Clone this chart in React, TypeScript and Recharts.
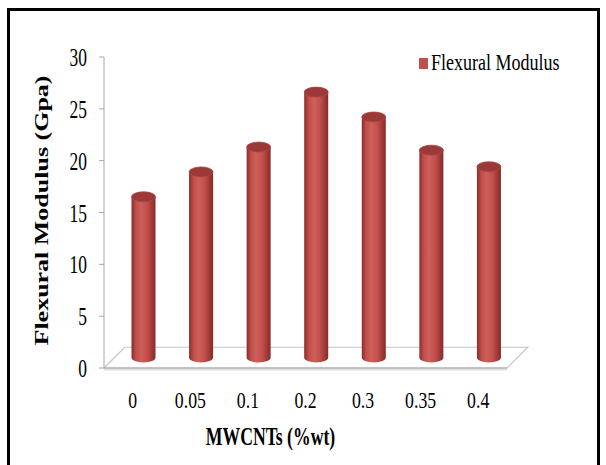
import React from "react";
import { BarChart, Bar, XAxis, YAxis, ReferenceArea, Legend } from "recharts";

// values
const categories = ["0", "0.05", "0.1", "0.2", "0.3", "0.35", "0.4"];
const flexuralModulus = [15.5, 17.9, 20.3, 25.6, 23.2, 20.0, 18.4];
const yTicks = [0, 5, 10, 15, 20, 25, 30];
const slotEdges = [0, 1, 2, 3, 4, 5, 6, 7];

const data = categories.map((name, i) => ({ name, value: flexuralModulus[i] }));

const SERIF = "Liberation Serif";
const DEPTH = 21; // px depth of the fake 3d floor
const FLOOR_UNITS = 2; // same depth in y units

const Cylinder = (props: any) => {
  const { x, y, width, height } = props;
  if (height == null || width == null) return null;
  const d = DEPTH / 2;
  const rx = width / 2;
  const ry = 5;
  const cx = x + rx + d;
  const top = y - d;
  const bottom = y + height - d;
  return (
    <g>
      <path
        d={`M${cx - rx},${top} L${cx - rx},${bottom} A${rx},${ry} 0 0 0 ${cx + rx},${bottom} L${cx + rx},${top} Z`}
        fill="url(#cylBody)"
      />
      <ellipse cx={cx} cy={top} rx={rx} ry={ry} fill="#9a3937" stroke="#b04644" strokeWidth={0.8} />
    </g>
  );
};

const Floor = (props: any) => {
  const { x, y, width, height } = props;
  const front = y + height;
  const back = y;
  const dx = height;
  return (
    <g>
      <polygon
        points={`${x},${front} ${x + width},${front} ${x + width + dx},${back} ${x + dx},${back}`}
        fill="#ffffff"
        stroke="#c4c4c4"
        strokeWidth={1.2}
      />
      <line x1={x} y1={front + 1.5} x2={x + width} y2={front + 1.5} stroke="#dedede" strokeWidth={2} />
      <line x1={x} y1={front} x2={x + width} y2={front} stroke="#a6a6a6" strokeWidth={1.2} />
    </g>
  );
};

const XTick = ({ x, y, payload }: any) => (
  <text
    transform={`translate(${x},${y + 32}) scale(0.74,1)`}
    textAnchor="middle"
    fontSize={24}
    fontFamily={SERIF}
    fill="#000"
  >
    {payload.value}
  </text>
);

const YTick = ({ x, y, payload }: any) => (
  <text
    transform={`translate(${x - 10},${y + 9}) scale(0.67,1)`}
    textAnchor="end"
    fontSize={26}
    fontFamily={SERIF}
    fill="#000"
  >
    {payload.value}
  </text>
);

const XLabel = ({ viewBox }: any) => (
  <text
    transform={`translate(${viewBox.x + viewBox.width / 2 - 35},${viewBox.y + 77}) scale(0.68,1)`}
    textAnchor="middle"
    fontSize={26}
    fontWeight="bold"
    fontFamily={SERIF}
    fill="#000"
  >
    MWCNTs (%wt)
  </text>
);

const YLabel = ({ viewBox }: any) => (
  <text
    transform={`translate(${viewBox.x + 4},${viewBox.y + viewBox.height / 2 - 2}) rotate(-90) scale(1,0.75)`}
    textAnchor="middle"
    fontSize={26}
    fontWeight="bold"
    fontFamily={SERIF}
    fill="#000"
  >
    Flexural Modulus (Gpa)
  </text>
);

const LegendBox = ({ payload }: any) => {
  const item = payload && payload[0];
  return (
    <div style={{ position: "relative", width: 170, height: 30 }}>
      <div style={{ position: "absolute", left: 2, top: 8, width: 9, height: 11, background: "#c0504d" }} />
      <span
        style={{
          position: "absolute",
          left: 14,
          top: -1,
          fontFamily: SERIF,
          fontSize: 24,
          color: "#000",
          whiteSpace: "nowrap",
          transform: "scaleX(0.75)",
          transformOrigin: "left top",
        }}
      >
        {item ? item.value : "Flexural Modulus"}
      </span>
    </div>
  );
};

export default function App() {
  return (
    <div style={{ position: "absolute", left: 0, top: 0, width: 606, height: 465, background: "#fff", overflow: "hidden" }}>
      <div
        style={{
          position: "absolute",
          left: 7,
          top: 8,
          width: 587,
          height: 470,
          borderTop: "3px solid #000",
          borderLeft: "3px solid #000",
          borderRight: "3px solid #000",
        }}
      />
      <BarChart width={606} height={465} data={data} margin={{ top: 57, right: 99, bottom: 49, left: 44 }}>
        <defs>
          <linearGradient id="cylBody" x1="0" y1="0" x2="1" y2="0">
            <stop offset="0%" stopColor="#8a2b29" />
            <stop offset="18%" stopColor="#bf4e4b" />
            <stop offset="40%" stopColor="#cf5f5b" />
            <stop offset="65%" stopColor="#c2504d" />
            <stop offset="100%" stopColor="#862a28" />
          </linearGradient>
        </defs>
        <XAxis
          xAxisId="edges"
          type="number"
          domain={[0, 7]}
          ticks={slotEdges}
          allowDataOverflow
          tick={false}
          axisLine={false}
          tickLine={{ stroke: "#a6a6a6" }}
          tickSize={6}
          height={8}
        />
        <XAxis
          xAxisId="cat"
          dataKey="name"
          axisLine={false}
          tickLine={false}
          tick={<XTick />}
          interval={0}
          height={40}
          label={<XLabel />}
        />
        <YAxis
          domain={[0, 30]}
          ticks={yTicks}
          width={60}
          axisLine={{ stroke: "#a6a6a6" }}
          tickLine={{ stroke: "#a6a6a6" }}
          tickSize={5}
          tick={<YTick />}
          label={<YLabel />}
        />
        <ReferenceArea xAxisId="cat" y1={0} y2={FLOOR_UNITS} shape={<Floor />} ifOverflow="visible" />
        <Legend
          layout="vertical"
          align="center"
          verticalAlign="middle"
          wrapperStyle={{ top: 50, left: 417, width: 180 }}
          content={<LegendBox />}
        />
        <Bar
          xAxisId="cat"
          dataKey="value"
          name="Flexural Modulus"
          fill="#c0504d"
          barSize={24}
          shape={<Cylinder />}
          isAnimationActive={false}
        />
      </BarChart>
    </div>
  );
}
